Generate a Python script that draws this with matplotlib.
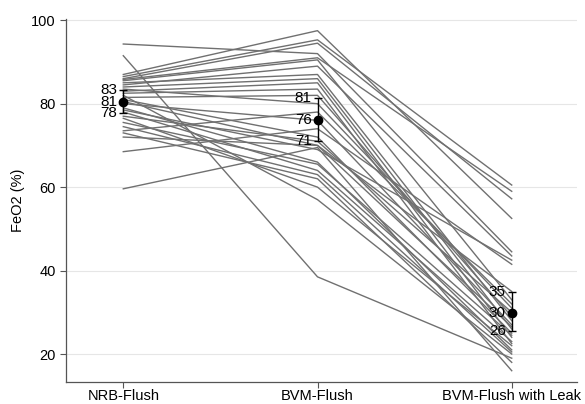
import matplotlib
matplotlib.use("Agg")
import matplotlib.pyplot as plt

plt.rcParams['font.family'] = ['Liberation Sans', 'DejaVu Sans']

conditions = ["NRB-Flush", "BVM-Flush", "BVM-Flush with Leak"]

# FeO2 (%) per subject, one value per condition
nrb = [94.3, 91.5, 87.0, 86.5, 86.0, 85.8, 85.5, 85.0, 84.5, 84.0,
       83.5, 83.0, 82.5, 82.0, 81.5, 81.0, 80.5, 80.0, 79.0, 78.5,
       78.0, 77.0, 76.5, 75.5, 74.5, 73.5, 73.0, 72.0, 68.5, 59.6]
bvm = [92.0, 38.5, 97.5, 95.3, 94.5, 91.0, 90.5, 87.0, 89.0, 86.0,
       80.0, 85.0, 83.5, 57.0, 82.0, 72.0, 70.0, 76.0, 66.0, 69.0,
       64.0, 71.0, 60.0, 65.5, 63.0, 78.0, 62.0, 70.0, 74.0, 69.5]
leak = [44.5, 19.0, 52.5, 60.5, 57.2, 59.0, 33.0, 28.0, 43.5, 26.0,
        31.0, 24.0, 22.5, 20.0, 29.0, 25.0, 35.0, 27.0, 21.0, 42.5,
        23.0, 30.0, 22.0, 24.5, 20.5, 32.0, 18.0, 26.5, 41.5, 16.0]

# mean and 95% CI shown at each condition
means = [80.5, 76.2, 29.9]
ci_low = [77.7, 71.0, 25.6]
ci_high = [83.2, 81.3, 34.8]
mean_labels = ["81", "76", "30"]
low_labels = ["78", "71", "26"]
high_labels = ["83", "81", "35"]

fig = plt.figure(figsize=(5.85, 4.04), dpi=100)
ax = fig.add_axes([0.1128, 0.0545, 0.8735, 0.8985])

xs = [1, 2, 3]
for a, b, c in zip(nrb, bvm, leak):
    ax.plot(xs, [a, b, c], color="#707070", lw=1.0, zorder=2)

for i, x in enumerate(xs):
    ax.errorbar(x, means[i],
                yerr=[[means[i] - ci_low[i]], [ci_high[i] - means[i]]],
                fmt="o", color="black", ms=6, elinewidth=1.0,
                capsize=3, capthick=1.0, zorder=4)
    for val, lab in [(ci_high[i], high_labels[i]), (means[i], mean_labels[i]),
                     (ci_low[i], low_labels[i])]:
        ax.text(x - 0.03, val, lab, ha="right", va="center",
                fontsize=11, color="black", zorder=5)

ax.set_xlim(0.705, 3.336)
ax.set_ylim(13.3, 100.3)
ax.set_yticks([20, 40, 60, 80, 100])
ax.set_xticks(xs)
ax.set_xticklabels(conditions)
ax.set_ylabel("FeO2 (%)", fontsize=10.5)

ax.grid(axis="y", color="#e6e6e6", lw=0.8, zorder=0)
ax.set_axisbelow(True)
for side in ["top", "right"]:
    ax.spines[side].set_visible(False)
for side in ["left", "bottom"]:
    ax.spines[side].set_color("#555555")
    ax.spines[side].set_linewidth(0.9)
ax.tick_params(axis="both", colors="#555555", labelcolor="black",
               labelsize=10.5, length=4, width=0.8)
ax.tick_params(axis="x", pad=1)

fig.savefig("out.png", dpi=100)
